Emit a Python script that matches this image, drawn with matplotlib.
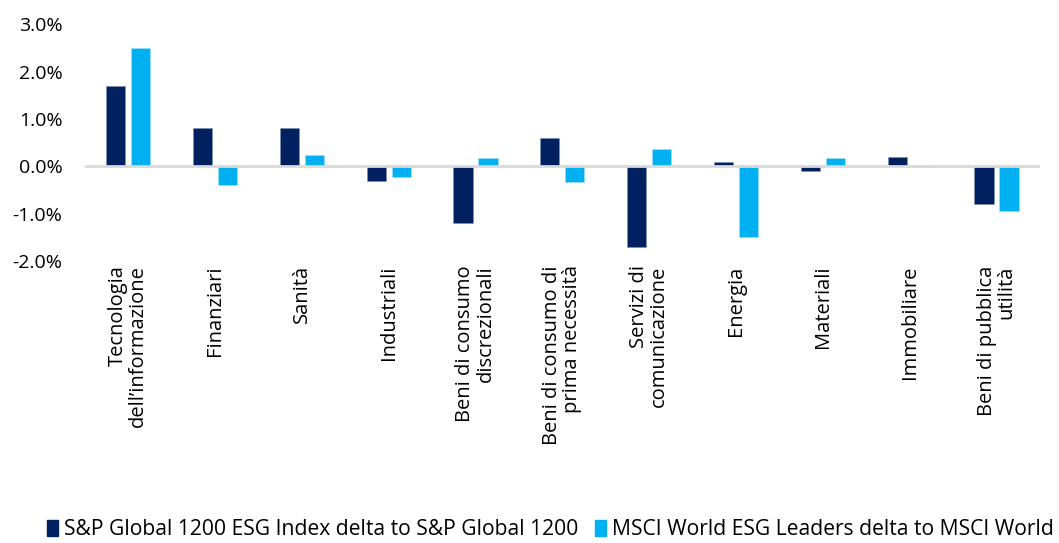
import numpy as np
import matplotlib.pyplot as plt
from matplotlib.patches import Patch
from matplotlib.ticker import FuncFormatter

# sector deltas, in percent
sectors = [
    "Tecnologia\ndell\u2019informazione",
    "Finanziari",
    "Sanità",
    "Industriali",
    "Beni di consumo\ndiscrezionali",
    "Beni di consumo di\nprima necessità",
    "Servizi di\ncomunicazione",
    "Energia",
    "Materiali",
    "Immobiliare",
    "Beni di pubblica\nutilità",
]
sp_delta = [1.7, 0.8, 0.8, -0.3, -1.2, 0.6, -1.7, 0.1, -0.1, 0.2, -0.8]
msci_delta = [2.5, -0.4, 0.23, -0.22, 0.18, -0.33, 0.36, -1.5, 0.18, -0.02, -0.95]

sp_label = "S&P Global 1200 ESG Index delta to S&P Global 1200"
msci_label = "MSCI World ESG Leaders delta to MSCI World"

dark = "#002060"
light = "#00B0F0"

plt.rcParams['font.family'] = ['Open Sans', 'DejaVu Sans']

fig = plt.figure(figsize=(10.59, 5.43), dpi=100)
ax = fig.add_axes([0.080, 0.519, 0.902, 0.4365])

x = np.arange(len(sectors))
w = 0.22
ax.bar(x - 0.144, sp_delta, width=w, color=dark, edgecolor="#8090b0", linewidth=0.4, zorder=2)
ax.bar(x + 0.144, msci_delta, width=w, color=light, edgecolor="#a0e0f8", linewidth=0.4, zorder=2)

ax.axhline(0, color="#d9d9d9", linewidth=2, zorder=3)

ax.set_xlim(-0.5, len(sectors) - 0.5)
ax.set_ylim(-2.0, 3.0)
ax.set_yticks(np.arange(-2.0, 3.01, 1.0))
ax.yaxis.set_major_formatter(FuncFormatter(lambda v, p: f"{v:.1f}%"))
ax.set_xticks(x)
ax.set_xticklabels(sectors, rotation=90, ha="center", va="top",
                   multialignment="right", fontsize=14.5, linespacing=1.0)
ax.tick_params(axis="x", length=0, pad=3)
ax.tick_params(axis="y", length=0, pad=16, labelsize=14)
for s in ax.spines.values():
    s.set_visible(False)

handles = [Patch(color=dark, label=sp_label), Patch(color=light, label=msci_label)]
fig.legend(handles=handles, loc="lower center", bbox_to_anchor=(0.52, -0.03),
           ncol=2, frameon=False, fontsize=15.2, handlelength=0.5, handleheight=0.85,
           handletextpad=0.3, columnspacing=0.8)

fig.savefig("out.png", dpi=100, facecolor="white")
